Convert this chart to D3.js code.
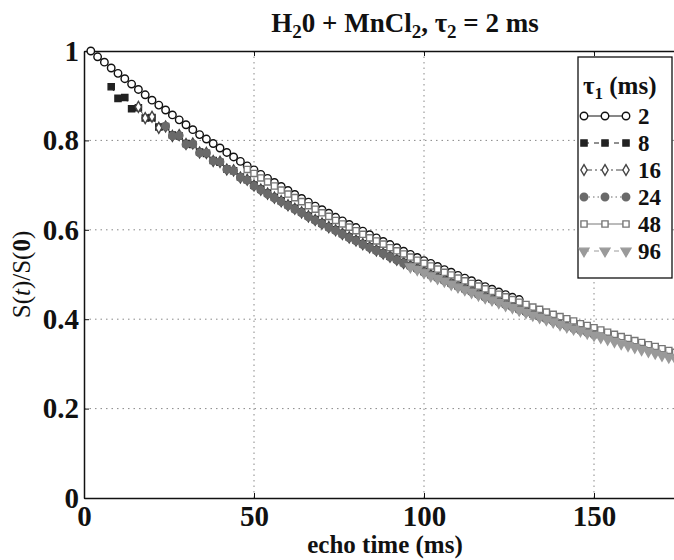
<!DOCTYPE html>
<html>
<head>
<meta charset="utf-8">
<script src="https://cdn.jsdelivr.net/npm/d3@7"></script>
<style>
  body { margin: 0; background: #fff; }
  svg text { font-family: "Liberation Serif", "Times New Roman", serif; }
</style>
</head>
<body>
<div id="chart"></div>
<script>
// tau1 values (ms) in legend order; echo times are tau1, tau1+2, tau1+4, ...
const tau1 = [2, 8, 16, 24, 48, 96];
const echoStep = 2;

const s2 = [1.000, .987, .975, .962, .950, .938, .926, .914, .902, .890, .879, .868, .857, .846, .835, .824,
  .813, .803, .793, .783, .773, .763, .753, .743, .734, .724, .715, .706, .697, .688, .679, .670,
  .662, .653, .645, .637, .628, .620, .612, .605, .597, .589, .582, .574, .567, .560, .552, .545,
  .538, .531, .525, .518, .511, .505, .498, .492, .486, .479, .473, .467, .461, .455, .449, .444];
const s8 = [.920, .894, .896, .871, .873, .850, .851, .830, .831, .812, .810, .793, .791, .774, .771, .755,
  .751, .736, .732, .718, .712, .700, .691, .682, .673, .665, .656, .648, .640, .631, .623, .615,
  .607, .600, .592, .584, .577, .569, .562, .555, .548, .541, .534, .527, .520, .514, .507, .500,
  .494, .488, .481, .475, .469, .463, .457, .451, .446, .440, .434, .429, .423, .418, .412, .407, .402];
const s16 = [.875, .850, .853, .828, .831, .810, .812, .792, .793, .773, .772, .754, .752, .735, .733, .717,
  .712, .699, .690, .681, .672, .664, .655, .647, .639, .630, .622, .614, .606, .599, .591, .583,
  .576, .568, .561, .554, .547, .540, .533, .526, .519, .513, .506, .499, .493, .487, .480, .474,
  .468, .462, .456, .450, .445, .439, .433, .428, .422, .417, .411, .406, .401, .396, .390, .385];
const s24 = [.832, .810, .811, .791, .792, .772, .772, .754, .752, .735, .732, .717, .711, .698, .689, .680,
  .671, .663, .654, .646, .638, .629, .621, .613, .605, .598, .590, .582, .575, .567, .560, .553,
  .546, .539, .532, .525, .518, .512, .505, .498, .492, .486, .479, .473, .467, .461, .455, .449,
  .444, .438, .432, .427, .421, .416, .410, .405, .400, .395, .389, .384, .379, .375, .370, .365];
const s48 = [.735, .726, .716, .707, .698, .689, .680, .672, .663, .654, .646, .638, .630, .621, .613, .606,
  .598, .590, .582, .575, .568, .560, .553, .546, .539, .532, .525, .519, .512, .505, .499, .492,
  .486, .480, .474, .468, .462, .456, .450, .444, .438, .433, .427, .422, .416, .411, .406, .401,
  .396, .390, .386, .381, .376, .371, .366, .361, .357, .352, .348, .343, .339, .334, .330, .326, .322];
const s96 = [.517, .511, .504, .497, .491, .485, .478, .472, .466, .460, .454, .448, .443, .437, .431, .426,
  .420, .415, .409, .404, .399, .394, .388, .383, .378, .374, .369, .364, .359, .355, .350, .345,
  .341, .337, .332, .328, .324, .319, .315, .311, .307];

const seriesValues = [s2, s8, s16, s24, s48, s96];

const xTicks = [0, 50, 100, 150];
const yTicks = [0, 0.2, 0.4, 0.6, 0.8, 1];

// marker / line styles per series
const styles = [
  { marker: "circle", fill: "#fff", stroke: "#111", dash: null },
  { marker: "square", fill: "#222", stroke: "#222", dash: "5,5" },
  { marker: "diamond", fill: "#fff", stroke: "#444", dash: "8,3,2,3" },
  { marker: "circle", fill: "#6a6a6a", stroke: "#6a6a6a", dash: "1.5,3" },
  { marker: "square", fill: "#fff", stroke: "#777", dash: null },
  { marker: "triangle-down", fill: "#9a9a9a", stroke: "#9a9a9a", dash: "5,5" }
];

const W = 674, H = 560;
const margin = { left: 84, top: 51, bottom: 62 };

const svg = d3.select("#chart").append("svg")
  .attr("width", W)
  .attr("height", H);

const x = d3.scaleLinear().domain([0, 175]).range([margin.left, 679]);
const y = d3.scaleLinear().domain([0, 1]).range([H - margin.bottom, margin.top]);

svg.append("defs").append("clipPath").attr("id", "plotclip")
  .append("rect")
  .attr("x", x(0) - 6).attr("y", y(1) - 6)
  .attr("width", x(175) - x(0) + 12).attr("height", y(0) - y(1) + 6);

// grid
const grid = svg.append("g").attr("stroke", "#888").attr("stroke-width", 1).attr("stroke-dasharray", "1.5,4");
grid.selectAll(".gx").data(xTicks.filter(d => d > 0)).enter().append("line")
  .attr("x1", d => x(d)).attr("x2", d => x(d))
  .attr("y1", y(0)).attr("y2", y(1));
grid.selectAll(".gy").data(yTicks.filter(d => d > 0 && d < 1)).enter().append("line")
  .attr("x1", x(0)).attr("x2", W)
  .attr("y1", d => y(d)).attr("y2", d => y(d));

// axes
const xAxis = svg.append("g")
  .attr("transform", "translate(0," + y(0) + ")")
  .call(d3.axisBottom(x).tickValues(xTicks).tickSizeInner(-5).tickSizeOuter(0).tickPadding(2));
const xTop = svg.append("g")
  .attr("transform", "translate(0," + y(1) + ")")
  .call(d3.axisTop(x).tickValues(xTicks).tickSizeInner(-5).tickSizeOuter(0).tickFormat(""));
const yAxis = svg.append("g")
  .attr("transform", "translate(" + x(0) + ",0)")
  .call(d3.axisLeft(y).tickValues(yTicks).tickSizeInner(-5).tickSizeOuter(0).tickPadding(5)
    .tickFormat(d => d === 0 || d === 1 ? String(d) : d3.format(".1f")(d)));

[xAxis, xTop, yAxis].forEach(g => {
  g.attr("font-family", null);
  g.select(".domain").attr("stroke", "#111").attr("stroke-width", 1.5);
  g.selectAll(".tick line").attr("stroke", "#111").attr("stroke-width", 1);
  g.selectAll(".tick text")
    .attr("fill", "#111")
    .style("font-family", "'Liberation Serif', serif")
    .style("font-size", "29px")
    .style("font-weight", "bold");
});
xAxis.selectAll(".tick text").attr("dy", "0.9em");

// series
const symbolType = {
  circle: d3.symbolCircle,
  square: d3.symbolSquare,
  diamond: d3.symbolDiamond,
  "triangle-down": d3.symbolTriangle
};
function markerPath(m) {
  const size = m === "circle" ? 44 : m === "square" ? 38 : m === "diamond" ? 34 : 42;
  return d3.symbol().type(symbolType[m]).size(size)();
}

const plot = svg.append("g").attr("clip-path", "url(#plotclip)");

const line = d3.line().x(d => x(d.t)).y(d => y(d.v));

seriesValues.forEach((vals, i) => {
  const st = styles[i];
  const pts = vals.map((v, k) => ({ t: tau1[i] + echoStep * k, v: v }));
  const g = plot.append("g");
  g.append("path")
    .datum(pts)
    .attr("d", line)
    .attr("fill", "none")
    .attr("stroke", st.stroke)
    .attr("stroke-width", 1)
    .attr("stroke-dasharray", st.dash);
  g.selectAll("path.mk").data(pts).enter().append("path")
    .attr("class", "mk")
    .attr("d", markerPath(st.marker))
    .attr("transform", d => "translate(" + x(d.t) + "," + y(d.v) + ")" + (st.marker === "triangle-down" ? " rotate(180)" : ""))
    .attr("fill", st.fill)
    .attr("stroke", st.stroke)
    .attr("stroke-width", 1.4);
});

// title
const title = svg.append("text")
  .attr("x", 405)
  .attr("y", 32)
  .attr("text-anchor", "middle")
  .style("font-size", "27px")
  .style("font-weight", "bold")
  .attr("fill", "#111");
title.append("tspan").text("H");
title.append("tspan").attr("dy", 6).style("font-size", "19px").text("2");
title.append("tspan").attr("dy", -6).text("0 + MnCl");
title.append("tspan").attr("dy", 6).style("font-size", "19px").text("2");
title.append("tspan").attr("dy", -6).text(", τ");
title.append("tspan").attr("dy", 6).style("font-size", "19px").text("2");
title.append("tspan").attr("dy", -6).text(" = 2 ms");

// axis labels
svg.append("text")
  .attr("x", 385)
  .attr("y", 553)
  .attr("text-anchor", "middle")
  .style("font-size", "25px")
  .style("font-weight", "bold")
  .attr("fill", "#111")
  .text("echo time (ms)");

const yl = svg.append("text")
  .attr("transform", "translate(30," + (y(0) + y(1)) / 2 + ") rotate(-90)")
  .attr("text-anchor", "middle")
  .style("font-size", "25px")
  .attr("fill", "#111");
yl.append("tspan").text("S(");
yl.append("tspan").style("font-style", "italic").text("t");
yl.append("tspan").text(")/S(");
yl.append("tspan").style("font-weight", "bold").text("0");
yl.append("tspan").text(")");

// legend
const lg = svg.append("g");
lg.append("rect")
  .attr("x", 578).attr("y", 57)
  .attr("width", 94).attr("height", 221)
  .attr("fill", "#fff")
  .attr("stroke", "#111")
  .attr("stroke-width", 1.3);
const lt = lg.append("text")
  .attr("x", 583).attr("y", 94)
  .style("font-size", "25px")
  .style("font-weight", "bold")
  .attr("fill", "#111");
lt.append("tspan").text("τ");
lt.append("tspan").attr("dy", 5).style("font-size", "17px").text("1");
lt.append("tspan").attr("dy", -5).text(" (ms)");

const rowY = d3.scalePoint().domain(tau1).range([116, 251]);
tau1.forEach((t, i) => {
  const st = styles[i];
  const yy = rowY(t);
  lg.append("line")
    .attr("x1", 584).attr("x2", 626)
    .attr("y1", yy).attr("y2", yy)
    .attr("stroke", st.stroke)
    .attr("stroke-width", 1)
    .attr("stroke-dasharray", st.dash);
  [584, 605, 626].forEach(mx => {
    lg.append("path")
      .attr("d", markerPath(st.marker))
      .attr("transform", "translate(" + mx + "," + yy + ")" + (st.marker === "triangle-down" ? " rotate(180)" : ""))
      .attr("fill", st.fill)
      .attr("stroke", st.stroke)
      .attr("stroke-width", 1.4);
  });
  lg.append("text")
    .attr("x", 638).attr("y", yy)
    .attr("dy", "0.35em")
    .style("font-size", "23px")
    .style("font-weight", "bold")
    .attr("fill", "#111")
    .text(t);
});
</script>
</body>
</html>
